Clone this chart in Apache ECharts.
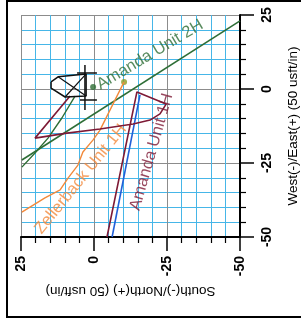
<!DOCTYPE html>
<html>
<head>
<meta charset="utf-8">
<script src="https://cdn.jsdelivr.net/npm/echarts@6/dist/echarts.min.js"></script>
<style>
html, body { margin: 0; padding: 0; background: #fff; }
#plan { width: 301px; height: 320px; }
</style>
</head>
<body>
<div id="plan"></div>
<script>
// South(-)/North(+) on the horizontal axis, West(-)/East(+) on the vertical one
var ticks = [-50, -25, 0, 25];

var unit1H_ns = [8.2, 20.2, 9.25, -2.05, -13.4, -19.2, -22.6, -24.7, -14.7, -4.45];
var unit1H_ew = [-2.4, -16.6, -14.9, -13.5, -11.8, -10.5, -8.4, -5.1, -1.0, -50];

var actual_ns = [-15.75, -6.2];
var actual_ew = [-2.0, -50];

var unit2H_ns = [24.7, -50];
var unit2H_ew = [-24.0, 23.0];

var unit2Hcurve_ns = [6.5, 11.0, 15.75, 20.2, 24.7];
var unit2Hcurve_ew = [-2.4, -9.8, -16.6, -21.6, -26.4];

var zeller_ns = [-10.3, -2.05, 0.3, 3.8, 5.5, 8.9, 11.6, 16.8, 24.7];
var zeller_ew = [2.4, -13.9, -17.2, -21.3, -25.7, -30.1, -34.1, -36.8, -41.6];

var pad_ns = [14.7, 12.3, 2.7, 2.7, 9.9, 14.7, 14.7];
var pad_ew = [2.4, 4.1, 5.1, -2.4, -2.7, 0.3, 2.4];
var diag1_ns = [12.3, 2.7];
var diag1_ew = [4.1, -2.4];
var diag2_ns = [9.9, 2.7];
var diag2_ew = [-2.7, 5.1];
var post_ns = [3.1, 3.1];
var post_ew = [8.1, -7.1];
var barTop_ns = [5.8, -1.0];
var barTop_ew = [5.4, 5.4];
var barBot_ns = [4.8, -1.0];
var barBot_ew = [-3.7, -3.7];

var wellNames = ['Amanda Unit 2H', 'Amanda Unit 1H', 'Zellerback Unit 1H'];
var surface2H = [0.3, 0.7];
var surfaceZeller = [-10.3, 2.4];

function pairs(a, b) {
    var out = [];
    for (var i = 0; i < a.length; i++) out.push([a[i], b[i]]);
    return out;
}

function track(a, b, color, w) {
    return {
        type: 'line',
        data: pairs(a, b),
        showSymbol: false,
        symbol: 'none',
        silent: true,
        animation: false,
        lineStyle: { color: color, width: w || 1.5 }
    };
}

var red = '#7e1a36', green = '#2e6e36', orange = '#f28a3c', blue = '#2160d8';

var chart = echarts.init(document.getElementById('plan'));

var axisCommon = {
    type: 'value',
    min: ticks[0],
    max: ticks[ticks.length - 1],
    interval: 25,
    axisLine: { show: true, onZero: false, lineStyle: { color: '#000', width: 2 } },
    axisTick: { show: true, length: 14, lineStyle: { color: '#000', width: 1.5 } },
    minorTick: { show: true, splitNumber: 5, length: 6, lineStyle: { color: '#000', width: 1.2 } },
    splitLine: { show: true, lineStyle: { color: '#8c8c8c', width: 1 } },
    minorSplitLine: { show: true, lineStyle: { color: '#46b6e8', width: 1 } },
    axisLabel: {
        rotate: 90,
        color: '#000',
        fontFamily: 'Liberation Sans',
        fontWeight: 'bold',
        fontSize: 14
    },
    nameLocation: 'middle',
    nameTextStyle: { color: '#000', fontFamily: 'Liberation Sans', fontSize: 13.5 }
};

var option = {
    backgroundColor: '#fff',
    animation: false,
    grid: { left: 21, right: 61, top: 15, bottom: 83, containLabel: false, outerBoundsMode: 'none' },
    xAxis: echarts.util.merge({
        inverse: true,
        position: 'bottom',
        name: 'South(-)/North(+) (50 usft/in)',
        nameRotate: 180,
        nameGap: 47,
        axisLabel: { margin: 19 }
    }, axisCommon),
    yAxis: echarts.util.merge({
        position: 'right',
        name: 'West(-)/East(+) (50 usft/in)',
        nameRotate: 90,
        nameGap: 46,
        axisLabel: { margin: 20 }
    }, axisCommon),
    graphic: [{
        type: 'rect',
        shape: { x: 7, y: 1, width: 310, height: 316 },
        style: { fill: 'none', stroke: '#000', lineWidth: 2 },
        silent: true
    }],
    series: [
        track(unit2H_ns, unit2H_ew, green, 1.6),
        track(unit2Hcurve_ns, unit2Hcurve_ew, green, 1.4),
        track(zeller_ns, zeller_ew, orange, 1.4),
        track(actual_ns, actual_ew, blue, 1.6),
        track(unit1H_ns, unit1H_ew, red, 1.6),
        track(pad_ns, pad_ew, '#111', 1.5),
        track(diag1_ns, diag1_ew, '#111', 1.2),
        track(diag2_ns, diag2_ew, '#111', 1.2),
        track(post_ns, post_ew, '#111', 1.5),
        track(barTop_ns, barTop_ew, '#111', 1.5),
        track(barBot_ns, barBot_ew, '#111', 1.5),
        {
            type: 'scatter',
            silent: true,
            symbolSize: 6,
            data: [
                { value: surface2H, itemStyle: { color: green } },
                { value: surfaceZeller, itemStyle: { color: '#8c9a22' } }
            ]
        },
        {
            type: 'scatter',
            silent: true,
            symbolSize: 0,
            label: {
                show: true,
                position: 'inside',
                align: 'left',
                verticalAlign: 'middle',
                fontFamily: 'Liberation Sans',
                fontSize: 16.5,
                formatter: function (p) { return p.name; }
            },
            data: [
                { name: wellNames[0], value: [-1.4, 1.0], label: { rotate: 31, color: green } },
                { name: wellNames[1], value: [-14.0, -40.9], label: { rotate: 74, color: red } },
                { name: wellNames[2], value: [19.2, -48.3], label: { rotate: 51, color: orange } }
            ]
        }
    ]
};

chart.setOption(option);
</script>
</body>
</html>
